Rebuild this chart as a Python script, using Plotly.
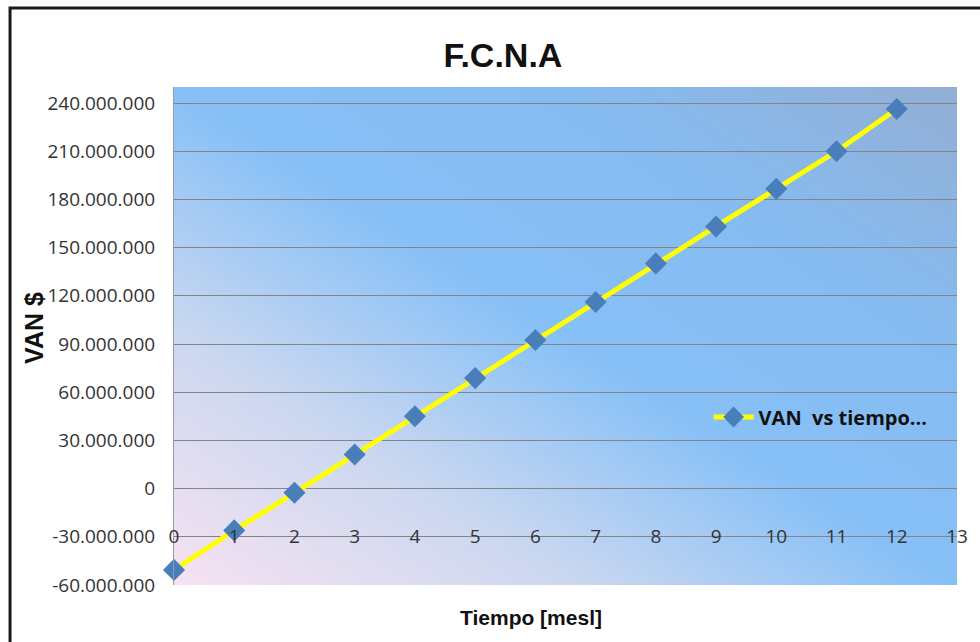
import base64
import plotly.graph_objects as go

# ---- data ----
months = [0, 1, 2, 3, 4, 5, 6, 7, 8, 9, 10, 11, 12]
van = [-50.6e6, -26.0e6, -2.6e6, 21.2e6, 45.0e6, 68.8e6, 92.5e6,
       116.2e6, 140.2e6, 163.2e6, 186.6e6, 210.0e6, 236.3e6]
y_tick_vals = [-60e6, -30e6, 0, 30e6, 60e6, 90e6, 120e6, 150e6, 180e6, 210e6, 240e6]
y_tick_text = ["-60.000.000", "-30.000.000", "0", "30.000.000", "60.000.000",
               "90.000.000", "120.000.000", "150.000.000", "180.000.000",
               "210.000.000", "240.000.000"]
x_tick_vals = list(range(0, 14))
x_tick_text = [str(v) for v in x_tick_vals]
series_name = "VAN\u00a0\u00a0vs tiempo..."
title_text = "F.C.N.A"
x_title = "Tiempo [mesl]"
y_title = "VAN $"

# ---- layout geometry (pixels) ----
W, H = 980, 642
L, R, T, B = 174, 18, 87, 57
PW, PH = W - L - R, H - T - B


def px_x(px):
    return (px - L) / PW


def px_y(py):
    return (H - B - py) / PH


svg = (
    '<svg xmlns="http://www.w3.org/2000/svg" width="788" height="498" '
    'viewBox="0 0 788 498" preserveAspectRatio="none"><defs>'
    '<linearGradient id="g" x1="0" y1="1" x2="1" y2="0">'
    '<stop offset="0" stop-color="#f7e2f2"/>'
    '<stop offset="0.25" stop-color="#ccd8f0"/>'
    '<stop offset="0.5" stop-color="#86c0f7"/>'
    '<stop offset="0.75" stop-color="#86bbf0"/>'
    '<stop offset="1" stop-color="#93aed4"/>'
    '</linearGradient></defs>'
    '<rect width="788" height="498" fill="url(#g)"/></svg>'
)
svg_uri = "data:image/svg+xml;base64," + base64.b64encode(svg.encode()).decode()

fig = go.Figure()
fig.add_trace(go.Scatter(
    x=months, y=van, mode="lines+markers", name=series_name,
    line=dict(color="#ffff00", width=5),
    marker=dict(symbol="diamond", size=17, color="#4a7ebb"),
    cliponaxis=False,
))

tick_font = dict(family="Open Sans, Liberation Sans, sans-serif", size=19, color="#333333")

fig.update_layout(
    width=W, height=H,
    margin=dict(l=L, r=R, t=T, b=B),
    paper_bgcolor="white",
    plot_bgcolor="rgba(0,0,0,0)",
    showlegend=True,
    legend=dict(x=px_x(712), y=px_y(417), xanchor="left", yanchor="middle",
                bgcolor="rgba(0,0,0,0)", borderwidth=0, itemwidth=40,
                font=dict(family="Open Sans, Liberation Sans, sans-serif", size=20,
                          color="#111111", weight="bold")),
    title=dict(text=title_text, x=px_x(505), xanchor="center", xref="paper",
               y=1 - 55 / H, yanchor="middle", yref="container",
               font=dict(family="Liberation Sans, Arial, sans-serif",
                         size=34, color="#111111", weight="bold")),
    xaxis=dict(range=[0, 13], tickvals=x_tick_vals, ticktext=x_tick_text,
               showgrid=False, zeroline=False, showline=False, ticks="",
               anchor="free", position=px_y(523), tickfont=tick_font),
    yaxis=dict(range=[-60e6, 250e6], tickvals=y_tick_vals, ticktext=y_tick_text,
               showgrid=True, gridcolor="#848484", gridwidth=1,
               zeroline=False, showline=True, linecolor="#9a9a9a", linewidth=1,
               ticks="", tickfont=tick_font, ticklabelstandoff=14),
    images=[dict(source=svg_uri, xref="paper", yref="paper", x=0, y=1,
                 sizex=1, sizey=1, sizing="stretch", layer="below",
                 xanchor="left", yanchor="top")],
    annotations=[
        dict(text=x_title, xref="paper", yref="paper", x=px_x(533), y=px_y(617),
             showarrow=False, xanchor="center", yanchor="middle",
             font=dict(family="Liberation Sans, Arial, sans-serif", size=21,
                       color="#111111", weight="bold")),
        dict(text=y_title, xref="paper", yref="paper", x=px_x(33), y=px_y(328),
             showarrow=False, textangle=-90, xanchor="center", yanchor="middle",
             font=dict(family="Liberation Sans, Arial, sans-serif", size=25,
                       color="#111111", weight="bold")),
    ],
    shapes=[
        dict(type="rect", xref="paper", yref="paper",
             x0=px_x(9), x1=px_x(1010), y0=px_y(700), y1=px_y(8),
             line=dict(color="#1a1a1a", width=3), fillcolor="rgba(0,0,0,0)",
             layer="above"),
    ],
)

fig.write_html("out.html")
